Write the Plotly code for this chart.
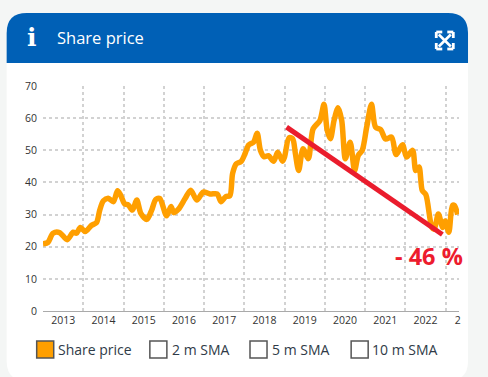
import plotly.graph_objects as go

# ---- data ----
years = [2013.0,2013.12,2013.25,2013.41,2013.6,2013.75,2013.83,2013.93,2014.05,2014.2,2014.33,2014.41,2014.5,2014.62,2014.75,2014.85,2014.93,
         2015.03,2015.12,2015.22,2015.33,2015.43,2015.58,2015.7,2015.8,2015.9,2016.07,2016.18,2016.25,2016.36,2016.53,2016.67,2016.82,2016.98,
         2017.15,2017.33,2017.42,2017.54,2017.64,2017.71,2017.8,2017.92,2018.02,2018.1,2018.15,2018.23,2018.32,2018.4,2018.49,2018.6,2018.73,2018.83,2018.95,
         2019.0,2019.11,2019.2,2019.27,2019.35,2019.46,2019.59,2019.71,2019.88,2019.98,
         2020.06,2020.14,2020.23,2020.33,2020.42,2020.51,2020.63,2020.74,2020.83,2020.93,
         2021.04,2021.16,2021.26,2021.39,2021.51,2021.66,2021.77,2021.93,
         2022.03,2022.18,2022.26,2022.34,2022.42,2022.51,2022.66,2022.72,2022.82,2022.93,2022.99,
         2023.08,2023.17,2023.22,2023.3]
prices = [20.9,21.3,24.2,24.4,22.2,24.5,24.2,26,24.7,26.6,27.5,31.4,34.3,35.1,34,37.4,36,
          33.3,33,31.4,34.5,30.4,28.5,31.4,34.7,35,29.6,32.5,30.6,31.6,35,37.6,34.5,37,
          36.4,36.4,34,35.6,35.8,42.8,45.8,46.5,49,51.5,52,52.5,55.3,50,48,48.3,46.6,49.4,46.6,
          47.9,53.9,53.6,48.9,43.7,50.5,47.4,56.7,59.3,64.3,
          56.2,53.6,59.3,63.2,59.3,47.4,52.5,43.7,48.4,50,
          57.2,64.3,57.2,56.4,53.5,54.1,48.7,51.7,
          47.9,50,43.7,44.8,37.5,36.2,26,25.5,30.2,26,28,
          24.5,32.8,32.8,30]
trend_x = [2019.05, 2022.92]
trend_y = [57.2, 23.8]
grid_years = list(range(2013, 2024))
label_x = [y + 0.5 for y in range(2013, 2023)] + [2023.3]
label_text = [str(y) for y in range(2013, 2023)] + ["2"]
y_ticks = [0, 10, 20, 30, 40, 50, 60, 70]
legend_items = ["Share price", "2 m SMA", "5 m SMA", "10 m SMA"]
title = "Share price"
change_label = "- 46 %"

# ---- layout helpers (page pixels -> paper coordinates) ----
W, H = 488, 377
L, R, T, B = 43.3, 458.7, 86.0, 311.0
FONT = "Open Sans"
fx = lambda p: (p - L) / (R - L)
fy = lambda p: (B - p) / (B - T)

def rpath(x0, y0, x1, y1, rt, rb):
    return (f"M {fx(x0)} {fy(y0+rt)} Q {fx(x0)} {fy(y0)} {fx(x0+rt)} {fy(y0)} "
            f"L {fx(x1-rt)} {fy(y0)} Q {fx(x1)} {fy(y0)} {fx(x1)} {fy(y0+rt)} "
            f"L {fx(x1)} {fy(y1-rb)} Q {fx(x1)} {fy(y1)} {fx(x1-rb)} {fy(y1)} "
            f"L {fx(x0+rb)} {fy(y1)} Q {fx(x0)} {fy(y1)} {fx(x0)} {fy(y1-rb)} Z")

shapes = [
    dict(type="path", xref="paper", yref="paper", layer="below", path=rpath(7, 13, 467.7, 381, 20, 20),
         fillcolor="white", line_width=0),
    dict(type="path", xref="paper", yref="paper", layer="below", path=rpath(7, 13, 467.7, 63, 20, 0),
         fillcolor="#0060b6", line_width=0),
]

def pline(x0, y0, x1, y1, color="white", width=2):
    shapes.append(dict(type="line", xref="paper", yref="paper", x0=fx(x0), y0=fy(y0), x1=fx(x1), y1=fy(y1),
                       line=dict(color=color, width=width)))

# expand icon
pline(438.5, 34.5, 450.5, 46.5, width=2.6); pline(450.5, 34.5, 438.5, 46.5, width=2.6)
for cx, cy, dx, dy in [(436, 32, 1, 1), (453, 32, -1, 1), (436, 49, 1, -1), (453, 49, -1, -1)]:
    pline(cx, cy, cx + dx * 6, cy, width=2.8)
    pline(cx, cy, cx, cy + dy * 6, width=2.8)

# legend boxes
box_x = [37, 150, 250, 351]
text_x = [58, 172, 272, 372]
for i, (bx, name) in enumerate(zip(box_x, legend_items)):
    shapes.append(dict(type="rect", xref="paper", yref="paper", x0=fx(bx), x1=fx(bx + 17), y0=fy(341), y1=fy(358),
                       fillcolor="#ff9f00" if i == 0 else "white", line=dict(color="#555555", width=1.5)))

annotations = [
    dict(xref="paper", yref="paper", x=fx(55.5), y=fy(38), text=title, showarrow=False, xanchor="left", yanchor="middle",
         font=dict(family=FONT, size=16.5, color="white")),
    dict(xref="paper", yref="paper", x=fx(32), y=fy(38), text="<b>i</b>", showarrow=False, xanchor="center", yanchor="middle",
         font=dict(family="DejaVu Serif", size=25, color="white")),
    dict(xref="paper", yref="paper", x=fx(428.5), y=fy(256), text=f"<b>{change_label}</b>", showarrow=False,
         xanchor="center", yanchor="middle", font=dict(family=FONT, size=23.5, color="#ed1c2e")),
]
for tx, name in zip(text_x, legend_items):
    annotations.append(dict(xref="paper", yref="paper", x=fx(tx), y=fy(349.5), text=name, showarrow=False,
                            xanchor="left", yanchor="middle", xshift=-2,
                            font=dict(family=FONT, size=14, color="#2f3b47")))

fig = go.Figure()
fig.add_trace(go.Scatter(x=years, y=prices, mode="lines", name="Share price",
                         line=dict(color="#ff9f00", width=5.5, shape="spline", smoothing=0.8), cliponaxis=False))
fig.add_trace(go.Scatter(x=trend_x, y=trend_y, mode="lines", name="Trend",
                         line=dict(color="#ea1c2d", width=5), cliponaxis=False))

grid = dict(color="#d2d2d2", width=1.5, dash="3px,3px")
fig.update_layout(
    width=W, height=H, autosize=False,
    margin=dict(l=L, r=W - R, t=T, b=H - B, pad=0),
    paper_bgcolor="#f4f6f5", plot_bgcolor="rgba(0,0,0,0)",
    showlegend=False, shapes=shapes, annotations=annotations,
    font=dict(family=FONT, size=10.5, color="#333333"),
    xaxis=dict(range=[2013, 2013 + (R - L) / 40.2], tickmode="array", tickvals=label_x, ticktext=label_text,
               showgrid=False, ticks="", zeroline=False, showline=True, linecolor="#aaaaaa", linewidth=1,
               tickangle=0, ticklabeloverflow="allow", ticklabelstandoff=-1, tickfont=dict(size=10.5),
               minor=dict(tickmode="array", tickvals=grid_years, showgrid=True, gridcolor=grid["color"],
                          griddash=grid["dash"], gridwidth=grid["width"], ticks="")),
    yaxis=dict(range=[0, 70], tickmode="array", tickvals=y_ticks, showgrid=True, gridcolor=grid["color"],
               griddash=grid["dash"], gridwidth=grid["width"], zeroline=False, showline=False, ticks="outside", ticklen=3,
               tickcolor="rgba(0,0,0,0)", tickfont=dict(size=10.5)),
)

fig.write_html("out.html", config=dict(displayModeBar=False),
               post_script="document.body.style.margin='0';document.body.style.overflow='hidden';")
